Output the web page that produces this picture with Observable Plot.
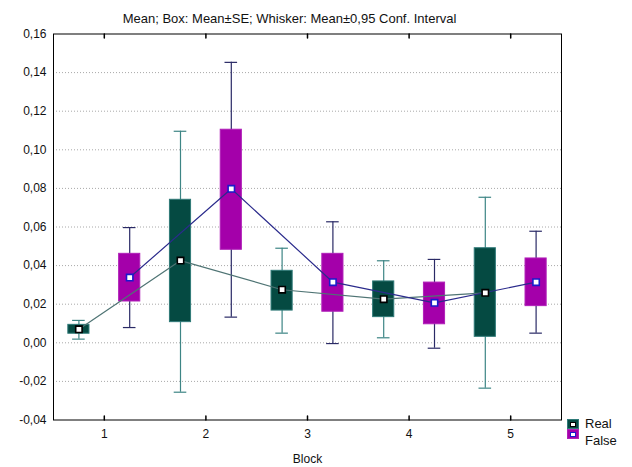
<!DOCTYPE html>
<html>
<head>
<meta charset="utf-8">
<script src="https://cdn.jsdelivr.net/npm/d3@7"></script>
<script src="https://cdn.jsdelivr.net/npm/@observablehq/plot@0.6"></script>
<style>
  html, body { margin: 0; padding: 0; background: #fff; }
  #wrap { position: relative; width: 632px; height: 467px; font-family: "Liberation Sans", Arial, sans-serif; }
  .sw { position: absolute; width: 12px; height: 10px; box-sizing: border-box; display: flex; align-items: center; justify-content: center; }
  .sw span { width: 6px; height: 5px; background: #fff; box-sizing: border-box; }
  .lt { position: absolute; font-size: 13px; line-height: 14px; color: #111; }
</style>
</head>
<body>
<div id="wrap">
  <div id="chart"></div>
</div>
<script>
// ---- data ----
const blocks = [1, 2, 3, 4, 5];
const seriesNames = ["Real", "False"];
const titleText = "Mean; Box: Mean±SE; Whisker: Mean±0,95 Conf. Interval";
const xLabel = "Block";
const yTicks = [-0.04, -0.02, 0, 0.02, 0.04, 0.06, 0.08, 0.10, 0.12, 0.14, 0.16];
const gridTicks = [-0.02, 0, 0.02, 0.04, 0.06, 0.08, 0.10, 0.12, 0.14];

const realMean = [0.0070, 0.0426, 0.0275, 0.0226, 0.0259];
const realSeLo = [0.0047, 0.0107, 0.0167, 0.0133, 0.0031];
const realSeHi = [0.0093, 0.0741, 0.0373, 0.0318, 0.0490];
const realCiLo = [0.0019, -0.0256, 0.0050, 0.0026, -0.0235];
const realCiHi = [0.0116, 0.1096, 0.0490, 0.0425, 0.0754];

const falseMean = [0.0338, 0.0798, 0.0314, 0.0207, 0.0314];
const falseSeLo = [0.0214, 0.0482, 0.0161, 0.0096, 0.0190];
const falseSeHi = [0.0461, 0.1104, 0.0461, 0.0312, 0.0437];
const falseCiLo = [0.0079, 0.0133, -0.0004, -0.0028, 0.0050];
const falseCiHi = [0.0597, 0.1453, 0.0627, 0.0432, 0.0578];

// ---- styles ----
const sty = {
  Real:  {off: -0.25, fill: "#054a42", edge: "#2f7a78", whisk: "#3d8585", line: "#4f7474", dot: "#000000", swTop: 419, txtTop: 417},
  False: {off:  0.25, fill: "#a400aa", edge: "#b020b8", whisk: "#2a2a66", line: "#2b2b8c", dot: "#1a1acc", swTop: 429, txtTop: 434}
};
const halfBox = 0.104, halfCap = 0.062;

function rows(name, mean, seLo, seHi, ciLo, ciHi) {
  return blocks.map((b, i) => ({
    name, block: b, x: b + sty[name].off,
    mean: mean[i], seLo: seLo[i], seHi: seHi[i], ciLo: ciLo[i], ciHi: ciHi[i]
  }));
}
const real = rows("Real", realMean, realSeLo, realSeHi, realCiLo, realCiHi);
const fals = rows("False", falseMean, falseSeLo, falseSeHi, falseCiLo, falseCiHi);

const fmt = d => d3.format(".2f")(d).replace(".", ",").replace("−", "-");
const tickShape = {draw(ctx, l) { ctx.moveTo(0, 0); ctx.lineTo(0, -l); }};

function seriesMarks(data, s) {
  return [
    Plot.ruleX(data, {x: "x", y1: "ciLo", y2: "ciHi", stroke: s.whisk, strokeWidth: 1.2}),
    Plot.ruleY(data, {y: "ciHi", x1: d => d.x - halfCap, x2: d => d.x + halfCap, stroke: s.whisk, strokeWidth: 1.2}),
    Plot.ruleY(data, {y: "ciLo", x1: d => d.x - halfCap, x2: d => d.x + halfCap, stroke: s.whisk, strokeWidth: 1.2}),
    Plot.rect(data, {x1: d => d.x - halfBox, x2: d => d.x + halfBox, y1: "seLo", y2: "seHi", fill: s.fill, stroke: s.edge, strokeWidth: 1})
  ];
}

const chart = Plot.plot({
  width: 632,
  height: 467,
  marginLeft: 53,
  marginRight: 71,
  marginTop: 33.5,
  marginBottom: 47.5,
  style: {fontFamily: "'Liberation Sans', Arial, sans-serif", fontSize: "12px", color: "#111", background: "#fff"},
  x: {domain: [0.5, 5.5], axis: null},
  y: {domain: [-0.04, 0.16], axis: null},
  marks: [
    Plot.gridY(gridTicks, {stroke: "#a8a8a8", strokeOpacity: 1, strokeDasharray: "1,2"}),
    ...seriesMarks(real, sty.Real),
    ...seriesMarks(fals, sty.False),
    Plot.line(real, {x: "x", y: "mean", stroke: sty.Real.line, strokeWidth: 1.2}),
    Plot.line(fals, {x: "x", y: "mean", stroke: sty.False.line, strokeWidth: 1.2}),
    Plot.dot(real, {x: "x", y: "mean", symbol: "square", r: 3.6, fill: "#fff", stroke: sty.Real.dot, strokeWidth: 1.6}),
    Plot.dot(fals, {x: "x", y: "mean", symbol: "square", r: 3.6, fill: "#fff", stroke: sty.False.dot, strokeWidth: 1.6}),
    Plot.frame({stroke: "#000", strokeWidth: 1}),
    Plot.vector(blocks, {x: d => d, frameAnchor: "bottom", anchor: "start", length: 4, shape: tickShape, stroke: "#000"}),
    Plot.vector(blocks, {x: d => d, frameAnchor: "top", anchor: "start", length: 4, rotate: 180, shape: tickShape, stroke: "#000"}),
    Plot.axisY(yTicks, {tickSize: 0, tickPadding: 7, tickFormat: fmt, fontSize: 12}),
    Plot.axisX(blocks, {tickSize: 0, tickPadding: 9, tickFormat: d => String(d), fontSize: 12, label: null}),
    Plot.text([xLabel], {frameAnchor: "bottom", dy: 43, fontSize: 12}),
    Plot.text([titleText], {frameAnchor: "top", dy: -20, dx: -18, fontSize: 13})
  ]
});
document.getElementById("chart").appendChild(chart);

// legend (HTML)
const wrap = document.getElementById("wrap");
seriesNames.forEach(n => {
  const sw = document.createElement("div");
  sw.className = "sw";
  sw.style.left = "567px";
  sw.style.top = sty[n].swTop + "px";
  sw.style.background = sty[n].fill;
  sw.style.border = "1px solid " + sty[n].edge;
  const inner = document.createElement("span");
  inner.style.border = "1px solid " + sty[n].dot;
  sw.appendChild(inner);
  const t = document.createElement("div");
  t.className = "lt";
  t.style.left = "585px";
  t.style.top = sty[n].txtTop + "px";
  t.textContent = n;
  wrap.appendChild(sw);
  wrap.appendChild(t);
});
</script>
</body>
</html>
